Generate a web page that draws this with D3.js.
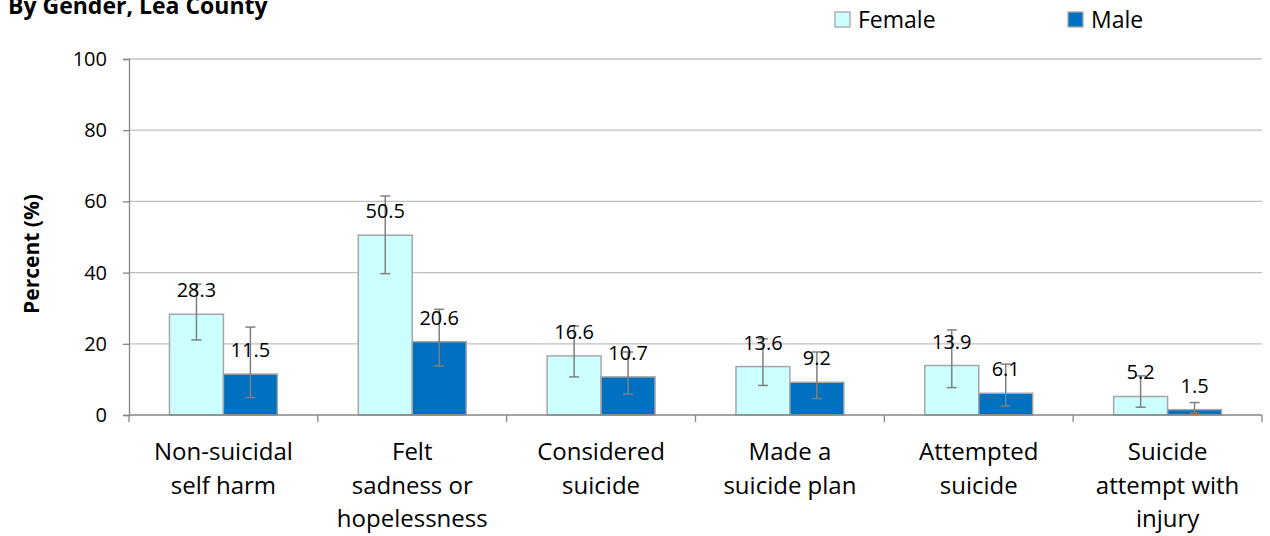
<!DOCTYPE html>
<html>
<head>
<meta charset="utf-8">
<script src="https://cdn.jsdelivr.net/npm/d3@7"></script>
<style>
body { margin: 0; background: #fff; }
svg { display: block; font-family: "Open Sans", sans-serif; }
</style>
</head>
<body>
<svg width="1270" height="536"></svg>
<script>
var categories = ["Non-suicidal self harm", "Felt sadness or hopelessness", "Considered suicide",
  "Made a suicide plan", "Attempted suicide", "Suicide attempt with injury"];
var categoryLines = [["Non-suicidal", "self harm"], ["Felt", "sadness or", "hopelessness"], ["Considered", "suicide"],
  ["Made a", "suicide plan"], ["Attempted", "suicide"], ["Suicide", "attempt with", "injury"]];
var series = ["Female", "Male"];
var femaleValues = [28.3, 50.5, 16.6, 13.6, 13.9, 5.2];
var femaleLow = [21.1, 39.7, 10.7, 8.3, 7.7, 2.2];
var femaleHigh = [36.8, 61.5, 25.0, 21.4, 23.9, 11.0];
var maleValues = [11.5, 20.6, 10.7, 9.2, 6.1, 1.5];
var maleLow = [4.9, 13.8, 5.9, 4.6, 2.5, 0.6];
var maleHigh = [24.7, 29.7, 17.7, 17.7, 14.3, 3.5];
var yTicks = [0, 20, 40, 60, 80, 100];
var colors = {Female: "#CCFFFF", Male: "#0070C0"};

var svg = d3.select("svg");

var x = d3.scaleBand().domain(categories).range([129, 1262]).paddingInner(0).paddingOuter(0);
var x1 = d3.scaleBand().domain(series).range([0, x.bandwidth()]).paddingInner(0).paddingOuter(0.75);
var y = d3.scaleLinear().domain([0, 100]).range([415, 59]);

var rows = [];
categories.forEach(function (c, i) {
  rows.push({cat: c, s: "Female", v: femaleValues[i], lo: femaleLow[i], hi: femaleHigh[i]});
  rows.push({cat: c, s: "Male", v: maleValues[i], lo: maleLow[i], hi: maleHigh[i]});
});

// title (cut at the top like the source)
svg.append("text")
  .attr("x", 8).attr("y", 14)
  .attr("font-size", 23).attr("font-weight", "bold").attr("fill", "#000")
  .text("By Gender, Lea County");

// gridlines
svg.append("g").selectAll("line")
  .data(yTicks.filter(function (t) { return t > 0; }))
  .enter().append("line")
  .attr("x1", 129).attr("x2", 1262)
  .attr("y1", function (d) { return y(d); }).attr("y2", function (d) { return y(d); })
  .attr("stroke", "#C0C0C0").attr("stroke-width", 1.3);

// y axis
var yAxis = svg.append("g")
  .attr("transform", "translate(129,0)")
  .call(d3.axisLeft(y).tickValues(yTicks).tickSize(6).tickPadding(16));
yAxis.select(".domain").attr("stroke", "#868686").attr("stroke-width", 1.3);
yAxis.selectAll(".tick line").attr("stroke", "#868686").attr("stroke-width", 1.3);
yAxis.selectAll(".tick text").attr("font-size", 20).attr("font-family", "Open Sans").attr("fill", "#000");

svg.append("text")
  .attr("transform", "translate(39,254) rotate(-90)")
  .attr("text-anchor", "middle")
  .attr("font-size", 21).attr("font-weight", "bold").attr("fill", "#000")
  .text("Percent (%)");

// bars
svg.append("g").selectAll("rect")
  .data(rows).enter().append("rect")
  .attr("x", function (d) { return x(d.cat) + x1(d.s); })
  .attr("y", function (d) { return y(d.v); })
  .attr("width", x1.bandwidth())
  .attr("height", function (d) { return y(0) - y(d.v); })
  .attr("fill", function (d) { return colors[d.s]; })
  .attr("stroke", "#A6A6A6").attr("stroke-width", 1.5);

// x axis
var xAxis = svg.append("g").attr("transform", "translate(0,415)");
xAxis.append("line").attr("x1", 129).attr("x2", 1262).attr("stroke", "#868686").attr("stroke-width", 1.3);
xAxis.selectAll("line.tk")
  .data(categories.map(function (c) { return x(c); }).concat([x.range()[1]]))
  .enter().append("line").attr("class", "tk")
  .attr("x1", function (d) { return d; }).attr("x2", function (d) { return d; })
  .attr("y1", 0).attr("y2", 7)
  .attr("stroke", "#868686").attr("stroke-width", 1.3);
var catText = xAxis.selectAll("text.cat")
  .data(categories).enter().append("text").attr("class", "cat")
  .attr("text-anchor", "middle").attr("font-size", 24).attr("fill", "#000")
  .attr("x", function (d) { return x(d) + x.bandwidth() / 2; });
catText.each(function (d, i) {
  var t = d3.select(this);
  categoryLines[i].forEach(function (ln, j) {
    t.append("tspan").attr("x", x(d) + x.bandwidth() / 2).attr("y", 45 + j * 33.5).text(ln);
  });
});

// error bars
var err = svg.append("g").selectAll("g").data(rows).enter().append("g")
  .attr("transform", function (d) { return "translate(" + (x(d.cat) + x1(d.s) + x1.bandwidth() / 2) + ",0)"; })
  .attr("stroke", "#7F7F7F").attr("stroke-width", 1.5);
err.append("line").attr("x1", 0).attr("x2", 0)
  .attr("y1", function (d) { return y(d.lo); }).attr("y2", function (d) { return y(d.hi); });
err.append("line").attr("x1", -5).attr("x2", 5)
  .attr("y1", function (d) { return y(d.lo); }).attr("y2", function (d) { return y(d.lo); });
err.append("line").attr("x1", -5).attr("x2", 5)
  .attr("y1", function (d) { return y(d.hi); }).attr("y2", function (d) { return y(d.hi); });

// value labels
svg.append("g").selectAll("text")
  .data(rows).enter().append("text")
  .attr("x", function (d) { return x(d.cat) + x1(d.s) + x1.bandwidth() / 2; })
  .attr("y", function (d) { return y(d.v) - 17; })
  .attr("text-anchor", "middle").attr("font-size", 20).attr("fill", "#000")
  .text(function (d) { return d.v.toFixed(1); });

// legend
var legend = svg.append("g").selectAll("g")
  .data(series).enter().append("g")
  .attr("transform", function (d, i) { return "translate(" + [835, 1068][i] + ",12)"; });
legend.append("rect")
  .attr("width", 15).attr("height", 15)
  .attr("fill", function (d) { return colors[d]; })
  .attr("stroke", "#A6A6A6").attr("stroke-width", 1.3);
legend.append("text")
  .attr("x", 23).attr("y", 15.5)
  .attr("font-size", 23).attr("fill", "#000")
  .text(function (d) { return d; });
</script>
</body>
</html>
